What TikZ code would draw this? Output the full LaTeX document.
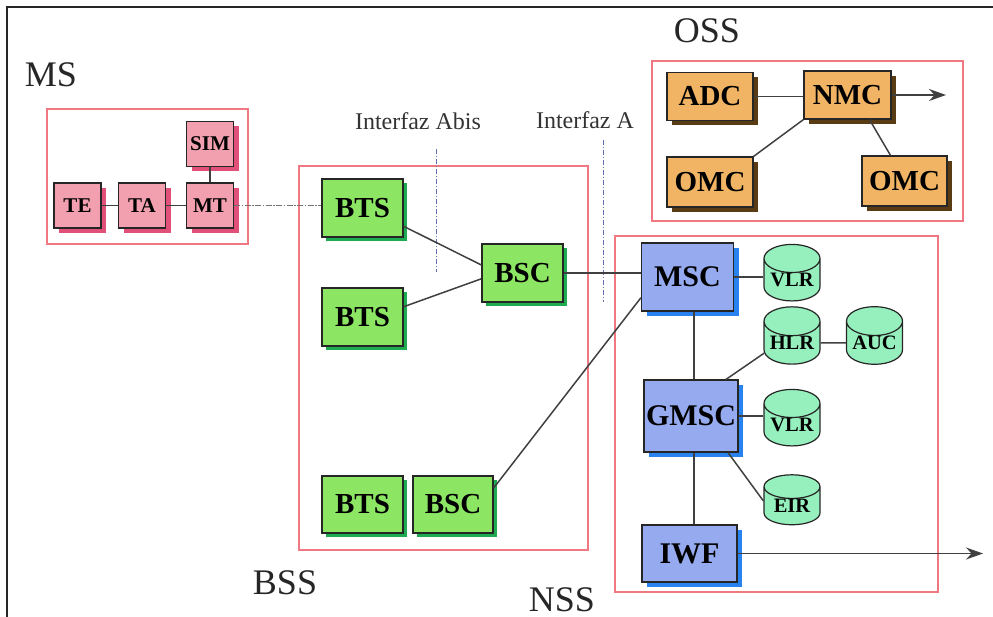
\documentclass[tikz,border=0pt]{standalone}
\usepackage{fontspec}
\setmainfont{Liberation Serif}
\usetikzlibrary{shapes,arrows,arrows.meta,positioning,shadows}

\definecolor{msfill}{RGB}{242,160,176}
\definecolor{msshadow}{RGB}{224,80,120}
\definecolor{bssfill}{RGB}{140,230,100}
\definecolor{bssshadow}{RGB}{30,170,80}
\definecolor{ossfill}{RGB}{240,180,100}
\definecolor{ossshadow}{RGB}{90,60,20}
\definecolor{nssfill}{RGB}{150,170,240}
\definecolor{nssshadow}{RGB}{40,130,240}
\definecolor{dbfill}{RGB}{150,240,190}
\definecolor{grupo}{RGB}{240,120,130}
\definecolor{interfaz}{RGB}{100,110,180}

\tikzset{
  caja/.style={draw=black!85, line width=1.2pt, inner sep=0pt, text=black,
    font=\bfseries\fontsize{29}{29}\selectfont},
  cajams/.style={caja, fill=msfill, minimum width=47pt, minimum height=45pt,
    font=\bfseries\fontsize{21}{21}\selectfont,
    drop shadow={fill=msshadow, opacity=1, shadow xshift=5pt, shadow yshift=-5pt}},
  cajabss/.style={caja, fill=bssfill, minimum width=81pt, minimum height=58pt,
    drop shadow={fill=bssshadow, opacity=1, shadow xshift=4pt, shadow yshift=-4pt}},
  cajaoss/.style={caja, fill=ossfill, minimum width=86pt, minimum height=48pt,
    drop shadow={fill=ossshadow, opacity=1, shadow xshift=5pt, shadow yshift=-5pt}},
  cajanss/.style={caja, fill=nssfill, minimum width=92pt, minimum height=68pt,
    font=\bfseries\fontsize{30}{30}\selectfont,
    drop shadow={fill=nssshadow, opacity=1, shadow xshift=5pt, shadow yshift=-5pt}},
  basedatos/.style={cylinder, shape border rotate=90, aspect=0.65, draw=black!85,
    line width=1.2pt, fill=dbfill, inner sep=0pt, minimum width=56pt, minimum height=50pt,
    font=\bfseries\fontsize{20.5}{20.5}\selectfont},
  grupo/.style={draw=grupo, line width=1.3pt},
  titulo/.style={font=\fontsize{36}{36}\selectfont, text=black!85, anchor=base},
  etiqueta/.style={font=\fontsize{24}{24}\selectfont, text=black!80, anchor=base},
  enlace/.style={draw=black!75, line width=1.5pt},
  flecha/.style={enlace, -{Stealth[length=17pt,width=12pt]}},
  corte/.style={draw=interfaz, line width=1pt, dash pattern=on 5pt off 2pt on 1pt off 2pt}
}

\begin{document}
\begin{tikzpicture}[x=1pt, y=-1pt]
                    \useasboundingbox (0,0) rectangle (993,617);
                    % Marco
                    \draw[line width=1.6pt, black!85] (993,7) -- (7,7) -- (7,617);

                    % Grupos
                    \draw[grupo] (47,109) rectangle (248,244);
                    \draw[grupo] (299,166) rectangle (588,550);
                    \draw[grupo] (652,61) rectangle (963,221);
                    \draw[grupo] (615,236) rectangle (938,592);

                    \node[titulo] (ms) at (51,87) {MS};
                    \node[titulo] (bss) at (285,594) {BSS};
                    \node[titulo] (oss) at (707,43) {OSS};
                    \node[titulo] (nss) at (562,611) {NSS};

                    % Interfaces
                    \node[etiqueta] (abis) at (418,130) {Interfaz Abis};
                    \node[etiqueta] (inta) at (585,129) {Interfaz A};
                    \draw[corte] (436,149) -- (436,272);
                    \draw[corte] (603,140) -- (603,302);

                    % MS
                    \node[cajams] (sim) at (210,144) {SIM};
                    \node[cajams] (te) at (77.5,205.5) {TE};
                    \node[cajams] (ta) at (142,205.5) {TA};
                    \node[cajams] (mt) at (210,205.5) {MT};

                    % BSS
                    \node[cajabss] (bts1) at (362.5,208) {BTS};
                    \node[cajabss] (bts2) at (362.5,317) {BTS};
                    \node[cajabss] (bsc1) at (522.5,273) {BSC};
                    \node[cajabss, minimum height=57pt] (bts3) at (362.5,504.5) {BTS};
                    \node[cajabss, minimum width=80pt, minimum height=57pt] (bsc2) at (453,504.5) {BSC};

                    % OSS
                    \node[cajaoss] (adc) at (710,96.5) {ADC};
                    \node[cajaoss, minimum width=87pt] (nmc) at (847.5,95) {NMC};
                    \node[cajaoss, minimum height=50pt] (omc1) at (710,182) {OMC};
                    \node[cajaoss, minimum width=85pt, minimum height=50pt] (omc2) at (904.5,181) {OMC};

                    % NSS
                    \node[cajanss] (msc) at (687.5,277) {MSC};
                    \node[cajanss, minimum width=94pt, minimum height=72pt] (gmsc) at (691,416) {GMSC};
                    \node[cajanss, minimum width=95pt, minimum height=57pt] (iwf) at (689.5,553.5) {IWF};
                    \node[basedatos] (vlr1) at (792,280) {VLR};
                    \node[basedatos] (hlr) at (792,343) {HLR};
                    \node[basedatos] (auc) at (874.5,343) {AUC};
                    \node[basedatos] (vlr2) at (792,425) {VLR};
                    \node[basedatos] (eir) at (792,506) {EIR};

                    \coordinate (salida oss) at (946,95);
                    \coordinate (salida iwf) at (983,553.5);

                    % Enlaces
                    \draw[enlace] (te) -- (ta);
                    \draw[enlace] (ta) -- (mt);
                    \draw[enlace] (sim) -- (mt);
                    \draw[enlace, black!55, dash pattern=on 6pt off 1.5pt on 1.5pt off 1.5pt] (mt.east) -- (mt.east -| bts1.west);
                    \draw[enlace] (bts1.-24) -- (bsc1.169);
                    \draw[enlace] (bts2.14) -- (bsc1.-172);
                    \draw[enlace] (bsc1.east) -- (bsc1.east -| msc.west);
                    \draw[enlace] (bsc2.22) -- (msc.-156);
                    \draw[enlace] (adc.east) -- (adc.east -| nmc.west);
                    \draw[flecha] (nmc.east) -- (salida oss);
                    \draw[enlace] (nmc.south west) -- (omc1.north east);
                    \draw[enlace] ([xshift=22pt]nmc.south) -- ([xshift=-14pt]omc2.north);
                    \draw[enlace] (msc.east) -- (msc.east -| vlr1.west);
                    \draw[enlace] ([xshift=6.5pt]msc.south) -- ([xshift=6.5pt]msc.south |- gmsc.north);
                    \draw[enlace] ([xshift=35pt]gmsc.north) -- (hlr.-160);
                    \draw[enlace] (hlr) -- (auc);
                    \draw[enlace] (gmsc.east) -- (gmsc.east -| vlr2.west);
                    \draw[enlace] ([xshift=37pt]gmsc.south) -- (eir.170);
                    \draw[enlace] ([xshift=3pt]gmsc.south) -- ([xshift=3pt]gmsc.south |- iwf.north);
                    \draw[flecha] (iwf.east) -- (salida iwf);
                \end{tikzpicture}
\end{document}
